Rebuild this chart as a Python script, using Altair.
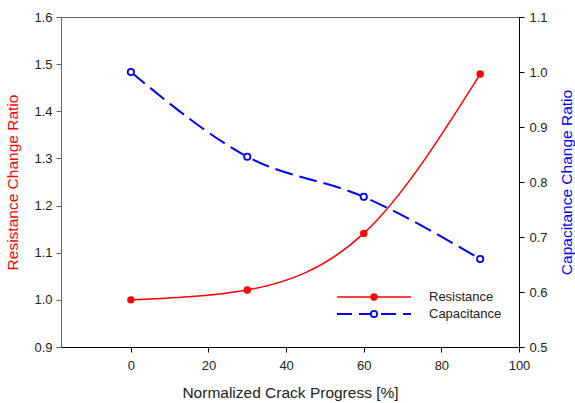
import altair as alt
import pandas as pd

progress = [0, 30, 60, 90]
resistance = [1.0, 1.021, 1.141, 1.479]
capacitance = [1.0, 0.846, 0.773, 0.66]
series_names = ["Resistance", "Capacitance"]
x_ticks = [0, 20, 40, 60, 80, 100]

df = pd.DataFrame({"progress": progress, "resistance": resistance, "capacitance": capacitance})

FONT = "Liberation Sans"
LFS = 13
TFS = 15.5

xscale = alt.Scale(domain=[-18, 100], nice=False, zero=False)
xaxis = alt.Axis(values=x_ticks, title="Normalized Crack Progress [%]", grid=False,
                 domainColor="black", tickColor="black", tickSize=5, labelPadding=7,
                 titlePadding=13, labelFontSize=LFS, titleFontSize=TFS, labelColor="#222",
                 titleColor="#222", titleFontWeight="normal", labelFont=FONT, titleFont=FONT,
                 labelFlush=False)
x = alt.X("progress:Q", scale=xscale, axis=xaxis)

left_axis = alt.Axis(orient="left", values=[0.9, 1.0, 1.1, 1.2, 1.3, 1.4, 1.5, 1.6], format=".1f",
                     title="Resistance Change Ratio", grid=False, domainColor="#666", tickColor="#666",
                     tickSize=5, labelPadding=4, titlePadding=13, labelFontSize=LFS, titleFontSize=TFS,
                     labelColor="#222", titleColor="red", titleFontWeight="normal",
                     labelFont=FONT, titleFont=FONT, labelFlush=False)
right_axis = alt.Axis(orient="right", values=[0.5, 0.6, 0.7, 0.8, 0.9, 1.0, 1.1], format=".1f",
                      title="Capacitance Change Ratio", grid=False, domainColor="black", tickColor="black",
                      tickSize=5, labelPadding=5, titlePadding=12, labelFontSize=LFS, titleFontSize=TFS,
                      labelColor="#222", titleColor="blue", titleFontWeight="normal",
                      titleAngle=270, titleBaseline="top",
                      labelFont=FONT, titleFont=FONT, labelFlush=False)

yl = alt.Y("resistance:Q", scale=alt.Scale(domain=[0.9, 1.6], nice=False, zero=False), axis=left_axis)
yr = alt.Y("capacitance:Q", scale=alt.Scale(domain=[0.5, 1.1], nice=False, zero=False), axis=right_axis)

base = alt.Chart(df)
res_line = base.mark_line(color="red", interpolate="monotone", strokeWidth=1.5).encode(x=x, y=yl)
res_pts = base.mark_point(filled=True, color="red", size=55, opacity=1).encode(x=x, y=yl)

cap_line = base.mark_line(color="blue", interpolate="monotone", strokeWidth=2,
                          strokeDash=[18, 7]).encode(x=x, y=yr)
cap_pts = base.mark_point(filled=False, color="blue", size=40, strokeWidth=1.8,
                          fill="white", opacity=1).encode(x=x, y=yr)

# legend (drawn inside the plot area, lower right)
leg_res = pd.DataFrame({"name": [series_names[0]]})
leg_cap = pd.DataFrame({"name": [series_names[1]]})
lx0, lx1, lxm, ltx = 276, 350, 313, 368
ly1, ly2 = 280, 297

leg1_line = alt.Chart(leg_res).mark_rule(color="red", strokeWidth=1.5).encode(
    x=alt.value(lx0), x2=alt.value(lx1), y=alt.value(ly1))
leg1_pt = alt.Chart(leg_res).mark_point(filled=True, color="red", size=55, opacity=1).encode(
    x=alt.value(lxm), y=alt.value(ly1))
leg1_txt = alt.Chart(leg_res).mark_text(align="left", baseline="middle", font=FONT, fontSize=LFS,
                                        color="#222").encode(x=alt.value(ltx), y=alt.value(ly1), text="name:N")
leg2_line = alt.Chart(leg_cap).mark_rule(color="blue", strokeWidth=2, strokeDash=[15, 7]).encode(
    x=alt.value(lx0), x2=alt.value(lx1), y=alt.value(ly2))
leg2_pt = alt.Chart(leg_cap).mark_point(filled=False, color="blue", size=40, strokeWidth=1.8,
                                        fill="white", opacity=1).encode(x=alt.value(lxm), y=alt.value(ly2))
leg2_txt = alt.Chart(leg_cap).mark_text(align="left", baseline="middle", font=FONT, fontSize=LFS,
                                        color="#222").encode(x=alt.value(ltx), y=alt.value(ly2), text="name:N")

left = alt.layer(res_line, res_pts, leg1_line, leg1_pt, leg1_txt, leg2_line, leg2_pt, leg2_txt)
right = alt.layer(cap_line, cap_pts)

chart = alt.layer(left, right).resolve_scale(y="independent").properties(
    width=458, height=330,
    autosize=alt.AutoSizeParams(type="none"),
    padding={"left": 61, "top": 17, "right": 56, "bottom": 56},
    background="white",
).configure_view(stroke="#666", strokeWidth=1)

chart.save("out.html", embed_options={"renderer": "svg", "actions": False})
